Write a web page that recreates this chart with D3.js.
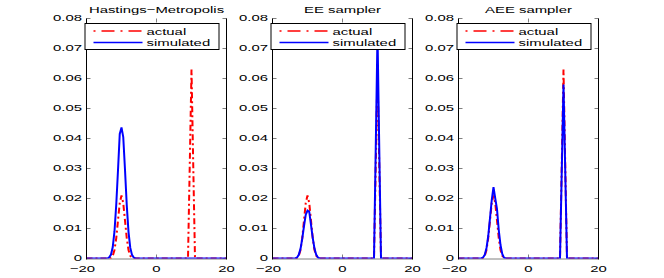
<!DOCTYPE html>
<html>
<head>
<meta charset="utf-8">
<script src="https://cdn.jsdelivr.net/npm/d3@7"></script>
<style>
  body { margin: 0; background: #fff; }
  text { font-family: "Liberation Sans", Arial, sans-serif; font-size: 9.6px; fill: #000; }
</style>
</head>
<body>
<div id="chart"></div>
<script>
// shared x grid of the densities
var xs = [-20, -14, -13.5, -13, -12.5, -12, -11.5, -11, -10.5, -10, -9.5, -9, -8.5, -8, -7.5, -7, -6.5, -6,
          8, 9, 9.5, 10, 10.5, 11, 12, 20];

// actual target density (same in every panel)
var actual = [0, 0, 0, 0.0002, 0.0009, 0.0028, 0.0068, 0.0127, 0.0185, 0.021, 0.0185, 0.0127, 0.0068, 0.0028, 0.0009, 0.0002, 0, 0,
              0, 0, 0.031, 0.063, 0.031, 0, 0, 0];

// simulated densities
var simHM  = [0, 0, 0.0004, 0.0013, 0.0038, 0.0091, 0.018, 0.0294, 0.0415, 0.0437, 0.0405, 0.0296, 0.0178, 0.0089, 0.0036, 0.0012, 0.0003, 0,
              0, 0, 0, 0, 0, 0, 0, 0];
var simEE  = [0, 0, 0, 0.0003, 0.0012, 0.0032, 0.0066, 0.0108, 0.0146, 0.016, 0.0156, 0.0112, 0.0068, 0.0033, 0.0012, 0.0003, 0, 0,
              0, 0, 0.037, 0.075, 0.037, 0, 0, 0];
var simAEE = [0, 0, 0, 0.0003, 0.0012, 0.0035, 0.0075, 0.0135, 0.0195, 0.0238, 0.02, 0.0165, 0.0095, 0.0045, 0.0015, 0.0003, 0, 0,
              0, 0, 0.029, 0.058, 0.029, 0, 0, 0];

var titles = ["Hastings\u2212Metropolis", "EE sampler", "AEE sampler"];
var simulated = [simHM, simEE, simAEE];
var legendLabels = ["actual", "simulated"];
var xTicks = [-20, 0, 20];
var yTicks = [0, 0.01, 0.02, 0.03, 0.04, 0.05, 0.06, 0.07, 0.08];

var svgWidth = 664;
var svgHeight = 278;
var panelLeft = [86.5, 272.5, 458.5];
var panelWidth = 140;
var top_ = 18.5, bottom_ = 258.5;
var stretch = 1.55;   // text in the picture is stretched horizontally

var svg = d3.select("#chart")
  .append("svg")
  .attr("width", svgWidth)
  .attr("height", svgHeight);

var defs = svg.append("defs");

// stretched text helper
function stext(g, x, y, str, anchor) {
  return g.append("text")
    .attr("transform", `translate(${x},${y}) scale(${stretch},1)`)
    .attr("text-anchor", anchor)
    .text(str);
}

var yFmt = d => d === 0 ? "0" : d.toFixed(2);

titles.forEach(function(title, i) {
  var left = panelLeft[i];
  var x = d3.scaleLinear().domain([-20, 20]).range([left, left + panelWidth]);
  var y = d3.scaleLinear().domain([0, 0.08]).range([bottom_, top_]);
  var g = svg.append("g");

  defs.append("clipPath").attr("id", "clip" + i)
    .append("rect")
    .attr("x", left).attr("y", top_ - 30)
    .attr("width", panelWidth).attr("height", bottom_ - top_ + 30);

  // bottom axis line (grey)
  g.append("line")
    .attr("x1", left).attr("x2", left + panelWidth)
    .attr("y1", bottom_ + 0.5).attr("y2", bottom_ + 0.5)
    .attr("stroke", "#808080");

  // ticks (inward, grey)
  yTicks.forEach(function(t) {
    g.append("line").attr("x1", left).attr("x2", left + 4)
      .attr("y1", y(t)).attr("y2", y(t)).attr("stroke", "#808080");
    g.append("line").attr("x1", left + panelWidth - 4).attr("x2", left + panelWidth)
      .attr("y1", y(t)).attr("y2", y(t)).attr("stroke", "#808080");
    stext(g, left - 4.5, y(t) + 2.8, yFmt(t), "end");
  });
  xTicks.forEach(function(t) {
    g.append("line").attr("x1", x(t)).attr("x2", x(t))
      .attr("y1", bottom_).attr("y2", bottom_ - 4).attr("stroke", "#808080");
    g.append("line").attr("x1", x(t)).attr("x2", x(t))
      .attr("y1", top_).attr("y2", top_ + 4).attr("stroke", "#808080");
    stext(g, x(t) + (t < 0 ? -4 : 0), bottom_ + 13.8, d3.format("")(t), "middle");
  });

  // curves
  var line = d3.line().x((d, k) => x(xs[k])).y(d => y(d));
  var curves = g.append("g").attr("clip-path", `url(#clip${i})`);
  curves.append("path")
    .attr("d", line(actual))
    .attr("fill", "none")
    .attr("stroke", "#ff0000")
    .attr("stroke-width", 2)
    .attr("stroke-dasharray", "6,3,2,3");
  curves.append("path")
    .attr("d", line(simulated[i]))
    .attr("fill", "none")
    .attr("stroke", "#0000ff")
    .attr("stroke-width", 2);

  // left / right axis lines
  g.append("line").attr("x1", left).attr("x2", left)
    .attr("y1", top_).attr("y2", bottom_ + 1).attr("stroke", "#000");
  g.append("line").attr("x1", left + panelWidth).attr("x2", left + panelWidth)
    .attr("y1", top_).attr("y2", bottom_ + 1).attr("stroke", "#000");

  // title
  stext(g, left + panelWidth / 2, 12.5, title, "middle");

  // legend
  var lx = left - 1.5, ly = 23.5;
  var lg = g.append("g");
  lg.append("rect")
    .attr("x", lx).attr("y", ly)
    .attr("width", 134).attr("height", 26)
    .attr("fill", "#fff").attr("stroke", "#000");
  legendLabels.forEach(function(lab, k) {
    var yy = ly + 7.5 + k * 11.5;
    lg.append("line")
      .attr("x1", lx + 8.5).attr("x2", lx + 57.5)
      .attr("y1", yy).attr("y2", yy)
      .attr("stroke", k === 0 ? "#ff0000" : "#0000ff")
      .attr("stroke-width", 1.5)
      .attr("stroke-dasharray", k === 0 ? "2,6,13,6" : null);
    stext(lg, lx + 61.5, yy + 3.5, lab, "start");
  });
});
</script>
</body>
</html>
